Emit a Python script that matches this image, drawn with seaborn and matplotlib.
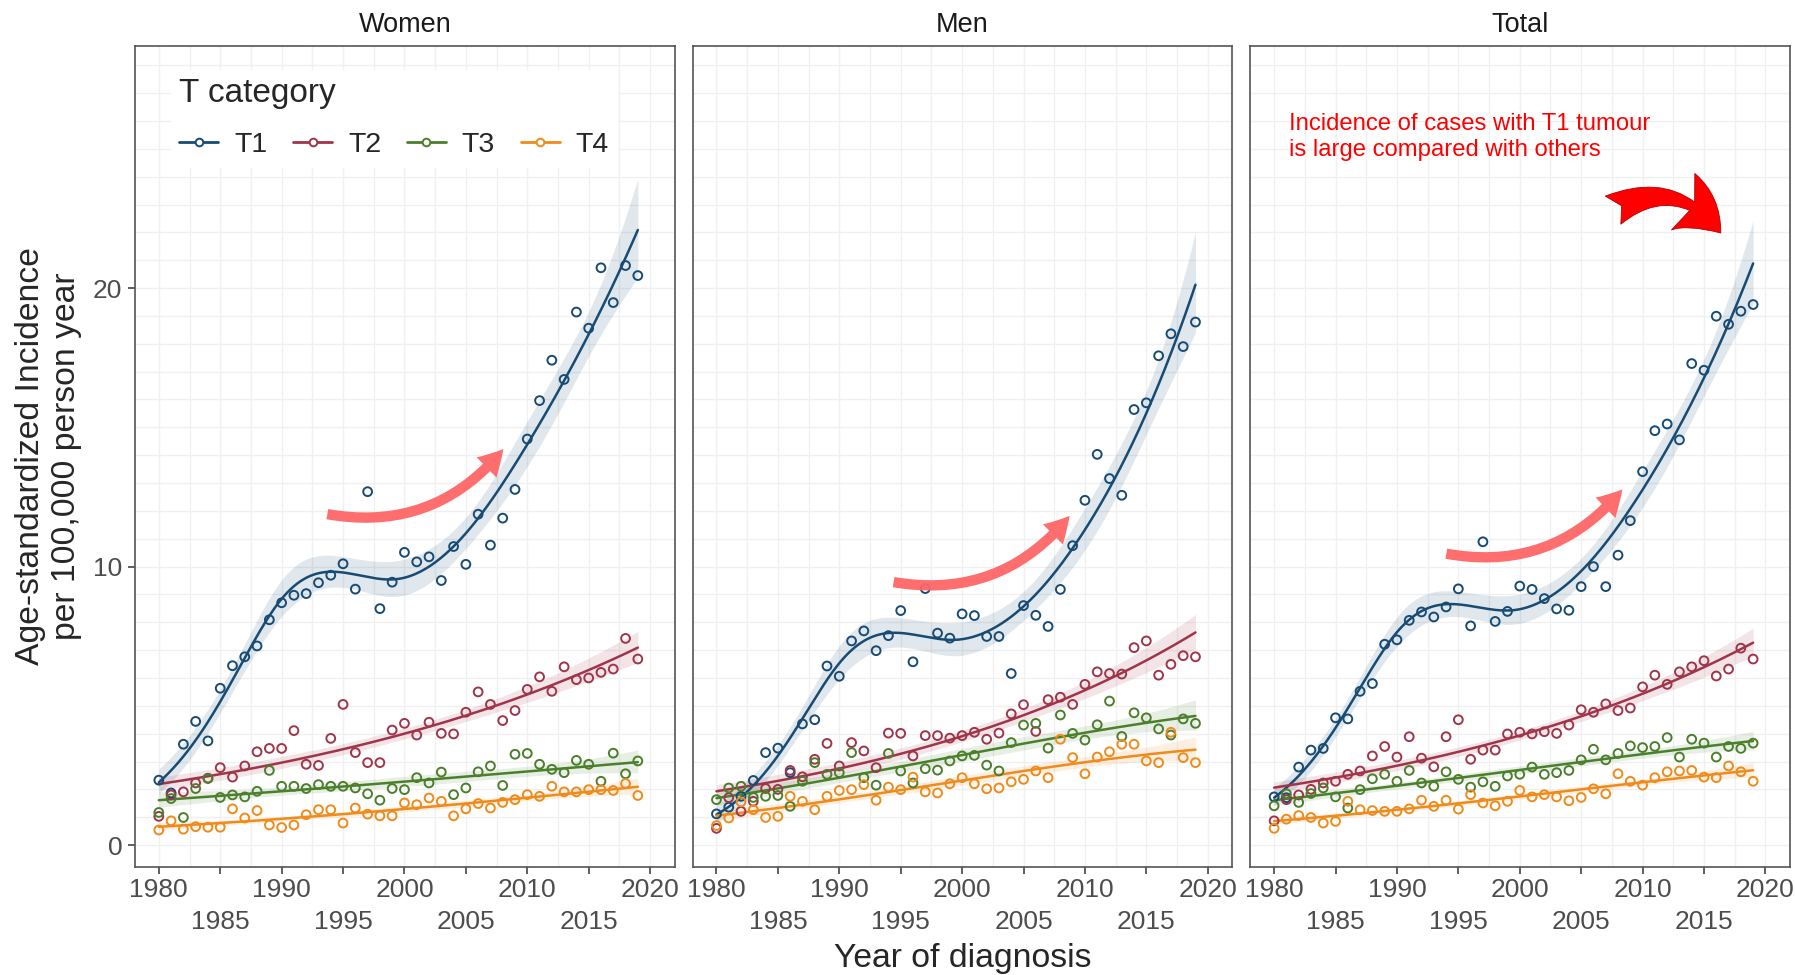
import numpy as np
import pandas as pd
import matplotlib
matplotlib.use("Agg")
import matplotlib.pyplot as plt
import seaborn as sns
from matplotlib.patches import FancyArrowPatch
from matplotlib.lines import Line2D

years = list(range(1980, 2020))
categories = ["T1", "T2", "T3", "T4"]
panels = ["Women", "Men", "Total"]
colors = ["#174B74", "#A0354A", "#4B7F2B", "#EF8B1A"]

women_t1 = [2.33, 1.87, 3.62, 4.44, 3.74, 5.63, 6.44, 6.76, 7.15, 8.09, 8.70, 8.97, 9.03, 9.42, 9.69, 10.10, 9.19, 12.69, 8.49, 9.44,
            10.51, 10.17, 10.35, 9.50, 10.72, 10.08, 11.88, 10.77, 11.74, 12.77, 14.58, 15.96, 17.41, 16.72, 19.14, 18.56, 20.73, 19.48, 20.81, 20.45]
women_t2 = [1.03, 1.80, 1.91, 2.23, 2.40, 2.78, 2.44, 2.84, 3.35, 3.47, 3.47, 4.11, 2.90, 2.86, 3.83, 5.05, 3.32, 2.96, 2.96, 4.13,
            4.37, 3.95, 4.41, 4.01, 3.99, 4.77, 5.50, 5.05, 4.47, 4.83, 5.59, 6.04, 5.52, 6.40, 5.94, 6.00, 6.20, 6.32, 7.42, 6.68]
women_t3 = [1.17, 1.67, 0.99, 2.03, 2.39, 1.71, 1.80, 1.73, 1.93, 2.68, 2.11, 2.11, 2.03, 2.17, 2.11, 2.11, 2.05, 1.84, 1.61, 2.03,
            1.99, 2.42, 2.23, 2.62, 1.81, 2.05, 2.63, 2.84, 2.14, 3.26, 3.29, 2.90, 2.72, 2.60, 3.04, 2.90, 2.29, 3.30, 2.56, 3.02]
women_t4 = [0.54, 0.87, 0.57, 0.66, 0.64, 0.64, 1.30, 0.97, 1.24, 0.72, 0.63, 0.72, 1.09, 1.27, 1.27, 0.79, 1.33, 1.11, 1.05, 1.05,
            1.51, 1.45, 1.69, 1.57, 1.05, 1.30, 1.49, 1.33, 1.53, 1.63, 1.81, 1.75, 2.11, 1.91, 1.91, 1.99, 1.99, 1.96, 2.21, 1.78]

men_t1 = [1.12, 1.36, 1.75, 2.32, 3.32, 3.48, 2.60, 4.35, 4.50, 6.43, 6.06, 7.33, 7.69, 6.98, 7.52, 8.42, 6.58, 9.21, 7.61, 7.43,
          8.30, 8.24, 7.49, 7.49, 6.16, 8.60, 8.25, 7.85, 9.18, 10.75, 12.38, 14.03, 13.16, 12.56, 15.64, 15.88, 17.57, 18.36, 17.90, 18.78]
men_t2 = [0.60, 1.70, 1.21, 1.57, 2.03, 2.00, 2.68, 2.45, 3.08, 3.65, 2.84, 3.68, 3.38, 2.78, 4.02, 4.01, 3.20, 3.93, 3.93, 3.84,
          3.93, 4.05, 3.80, 4.02, 4.71, 5.04, 4.08, 5.22, 5.31, 5.05, 5.77, 6.22, 6.16, 6.14, 7.09, 7.33, 6.10, 6.49, 6.80, 6.76]
men_t3 = [1.63, 2.05, 2.11, 1.71, 1.75, 1.78, 1.39, 2.29, 2.96, 2.54, 2.60, 3.32, 2.42, 2.15, 3.29, 2.66, 2.23, 2.74, 2.69, 3.02,
          3.20, 3.22, 2.87, 2.66, 3.68, 4.31, 4.37, 3.48, 4.67, 4.01, 3.77, 4.32, 5.17, 3.90, 4.75, 4.57, 4.17, 3.95, 4.53, 4.37]
men_t4 = [0.70, 0.97, 1.55, 1.27, 0.99, 1.03, 1.75, 1.57, 1.27, 1.75, 1.96, 1.99, 2.17, 1.61, 2.08, 1.99, 2.44, 1.91, 1.87, 2.20,
          2.42, 2.20, 2.02, 2.05, 2.27, 2.36, 2.66, 2.42, 3.80, 3.14, 2.56, 3.16, 3.35, 3.62, 3.62, 3.02, 2.96, 4.05, 3.14, 2.96]

total_t1 = [1.73, 1.70, 2.80, 3.41, 3.47, 4.57, 4.53, 5.52, 5.80, 7.21, 7.37, 8.07, 8.37, 8.19, 8.55, 9.20, 7.87, 10.89, 8.03, 8.39,
            9.30, 9.18, 8.85, 8.48, 8.43, 9.28, 10.00, 9.28, 10.41, 11.65, 13.41, 14.88, 15.12, 14.55, 17.29, 17.05, 18.99, 18.70, 19.17, 19.41]
total_t2 = [0.87, 1.63, 1.80, 2.00, 2.23, 2.29, 2.54, 2.66, 3.20, 3.54, 3.16, 3.89, 3.12, 2.81, 3.89, 4.50, 3.08, 3.41, 3.41, 3.99,
            4.05, 3.99, 4.07, 4.01, 4.31, 4.86, 4.77, 5.07, 4.83, 4.92, 5.68, 6.10, 5.77, 6.22, 6.40, 6.62, 6.07, 6.32, 7.07, 6.68]
total_t3 = [1.41, 1.84, 1.53, 1.85, 2.05, 1.73, 1.33, 1.99, 2.38, 2.54, 2.29, 2.68, 2.23, 2.11, 2.63, 2.36, 2.08, 2.27, 2.11, 2.48,
            2.54, 2.80, 2.54, 2.60, 2.68, 3.06, 3.44, 3.06, 3.29, 3.56, 3.50, 3.54, 3.86, 3.16, 3.80, 3.66, 3.16, 3.54, 3.47, 3.66]
total_t4 = [0.60, 0.93, 1.06, 0.99, 0.79, 0.85, 1.57, 1.27, 1.24, 1.21, 1.21, 1.30, 1.61, 1.39, 1.61, 1.29, 1.81, 1.51, 1.41, 1.57,
            1.96, 1.73, 1.81, 1.73, 1.59, 1.71, 2.02, 1.84, 2.56, 2.29, 2.15, 2.42, 2.63, 2.66, 2.68, 2.44, 2.42, 2.84, 2.63, 2.29]

series = {
    "Women": [women_t1, women_t2, women_t3, women_t4],
    "Men": [men_t1, men_t2, men_t3, men_t4],
    "Total": [total_t1, total_t2, total_t3, total_t4],
}
# smoother per category: natural spline (df) for T1, polynomial (order) for the others, log link
smoother = {"T1": ("ns", 4), "T2": ("poly", 1), "T3": ("poly", 2), "T4": ("poly", 2)}

X_LO, X_HI = min(years), max(years)


def poly_basis(x, order):
    z = (np.asarray(x, float) - (X_LO + X_HI) / 2) / ((X_HI - X_LO) / 2)
    return np.vander(z, order + 1, increasing=True)


def ns_basis(x, df):
    z = (np.asarray(x, float) - X_LO) / (X_HI - X_LO)
    zs = (np.asarray(years, float) - X_LO) / (X_HI - X_LO)
    inner = np.quantile(zs, np.linspace(0, 1, df + 1)[1:-1])
    knots = np.concatenate([[0.0], inner, [1.0]])
    K = len(knots)

    def d(k):
        return (np.clip(z - knots[k], 0, None) ** 3 - np.clip(z - knots[-1], 0, None) ** 3) / (knots[-1] - knots[k])

    cols = [np.ones_like(z), z]
    for k in range(K - 2):
        cols.append(d(k) - d(K - 2))
    return np.column_stack(cols)


def basis(kind, k, x):
    return ns_basis(x, k) if kind == "ns" else poly_basis(x, k)


def quasi_poisson_fit(x, y, kind, k, grid):
    y = np.asarray(y, float)
    X = basis(kind, k, x)
    G = basis(kind, k, grid)
    beta = np.linalg.lstsq(X, np.log(y), rcond=None)[0]
    for _ in range(300):
        eta = X @ beta
        mu = np.exp(eta)
        zw = eta + (y - mu) / mu
        XtW = X.T * mu
        new = np.linalg.solve(XtW @ X, XtW @ zw)
        done = np.max(np.abs(new - beta)) < 1e-12
        beta = new
        if done:
            break
    mu = np.exp(X @ beta)
    phi = np.sum((y - mu) ** 2 / mu) / (len(y) - X.shape[1])
    cov = phi * np.linalg.inv((X.T * mu) @ X)
    eta_g = G @ beta
    se = np.sqrt(np.einsum("ij,jk,ik->i", G, cov, G))
    return np.exp(eta_g), np.exp(eta_g - 2.02 * se), np.exp(eta_g + 2.02 * se)


rows = []
for p in panels:
    for cat, vals in zip(categories, series[p]):
        for y, v in zip(years, vals):
            rows.append({"panel": p, "category": cat, "year": y, "incidence": v})
df = pd.DataFrame(rows)

grid = np.linspace(X_LO, X_HI, 300)
fit_rows = []
for p in panels:
    for cat, vals in zip(categories, series[p]):
        kind, k = smoother[cat]
        fit, lo, hi = quasi_poisson_fit(years, vals, kind, k, grid)
        for g, f, l, h in zip(grid, fit, lo, hi):
            fit_rows.append({"panel": p, "category": cat, "year": g, "fit": f, "lo": l, "hi": h})
fits = pd.DataFrame(fit_rows)

sns.set_theme(style="white")
plt.rcParams["font.family"] = ["Liberation Sans", "DejaVu Sans"]

fig, axes = plt.subplots(1, 3, figsize=(17.95, 9.75), dpi=100, sharey=True)
fig.subplots_adjust(left=0.0752, right=0.9972, bottom=0.111, top=0.953, wspace=0.0333)

xlim = (1978.06, 2022.0)
ylim = (-0.78, 28.7)

for i, (ax, p) in enumerate(zip(axes, panels)):
    for v in np.arange(1977.5, 2023, 2.5):
        ax.axvline(v, color="#F0F0F0", lw=1.0, zorder=0)
    for h in range(0, 29):
        ax.axhline(h, color="#F0F0F0", lw=1.0, zorder=0)
    sub = df[df["panel"] == p]
    fsub = fits[fits["panel"] == p]
    for cat, col in zip(categories, colors):
        f = fsub[fsub["category"] == cat]
        ax.fill_between(f["year"], f["lo"], f["hi"], color=col, alpha=0.13, lw=0, zorder=2)
        sns.lineplot(data=f, x="year", y="fit", ax=ax, color=col, lw=1.8, zorder=3)
    for cat, col in zip(categories, colors):
        d = sub[sub["category"] == cat]
        sns.scatterplot(data=d, x="year", y="incidence", ax=ax, color=col,
                        facecolor="none", edgecolor=col, linewidth=1.4, s=40, zorder=4)
    ax.set_xlim(*xlim)
    ax.set_ylim(*ylim)
    ax.set_xlabel("")
    ax.set_ylabel("")
    ax.set_title(p, fontsize=19.5, pad=10, color="#1a1a1a")
    ax.set_xticks([1980, 1990, 2000, 2010, 2020])
    ax.set_xticklabels(["1980", "1990", "2000", "2010", "2020"])
    ax.set_xticks([1985, 1995, 2005, 2015], minor=True)
    ax.set_xticklabels(["1985", "1995", "2005", "2015"], minor=True)
    ax.tick_params(axis="x", which="both", bottom=True, length=5, width=1.1,
                   color="#333333", labelsize=19, labelcolor="#4D4D4D")
    ax.tick_params(axis="x", which="major", pad=3)
    ax.tick_params(axis="x", which="minor", pad=26)
    for s in ax.spines.values():
        s.set_color("#555555")
        s.set_linewidth(1.2)
        s.set_visible(True)
    if i == 0:
        ax.set_yticks([0, 10, 20])
        ax.tick_params(axis="y", left=True, length=5, width=1.1, color="#333333",
                       labelsize=19, labelcolor="#4D4D4D", pad=4)
    else:
        ax.tick_params(axis="y", left=False)

axes[0].set_ylabel("Age-standardized Incidence\nper 100,000 person year", fontsize=24.3, labelpad=8)
fig.text(0.5365, 0.017, "Year of diagnosis", fontsize=24.3, ha="center", va="center")

handles = [Line2D([0], [0], color=c, lw=2, marker="o", markersize=5.5, mfc="white", mec=c, mew=1.4)
           for c in colors]
leg = axes[0].legend(handles, categories, title="T category", loc="upper left",
                     bbox_to_anchor=(0.04, 0.988), ncol=4, fontsize=20.5, title_fontsize=24,
                     frameon=True, framealpha=1.0, edgecolor="white", handlelength=1.37,
                     handletextpad=0.56, columnspacing=0.9, alignment="left", borderpad=0.3,
                     labelspacing=0.8)
leg.set_zorder(5)

# salmon curved arrows
arrow_specs = [
    (axes[0], (1993.5, 11.9), (2008.2, 14.3)),
    (axes[1], (1994.2, 9.46), (2008.9, 11.9)),
    (axes[2], (1993.8, 10.48), (2008.5, 12.85)),
]
for ax, a, b in arrow_specs:
    arr = FancyArrowPatch(a, b, connectionstyle="arc3,rad=0.3",
                          arrowstyle="simple,head_length=1.5,head_width=1.7,tail_width=0.62",
                          mutation_scale=12, color="#FF6666", alpha=0.95, lw=0, zorder=6)
    ax.add_patch(arr)

big = FancyArrowPatch((2007.4, 22.75), (2016.5, 21.9), connectionstyle="arc3,rad=-0.45",
                      arrowstyle="fancy,head_length=1.6,head_width=2.0,tail_width=1.05",
                      mutation_scale=22, facecolor="#FF0000", edgecolor="#B00000", lw=0.6, zorder=6)
axes[2].add_patch(big)
axes[2].text(1981.2, 26.3, "Incidence of cases with T1 tumour\nis large compared with others",
             color="#FF0000", fontsize=17.2, ha="left", va="top", linespacing=1.25, zorder=7)

fig.savefig("out.png", dpi=100)
